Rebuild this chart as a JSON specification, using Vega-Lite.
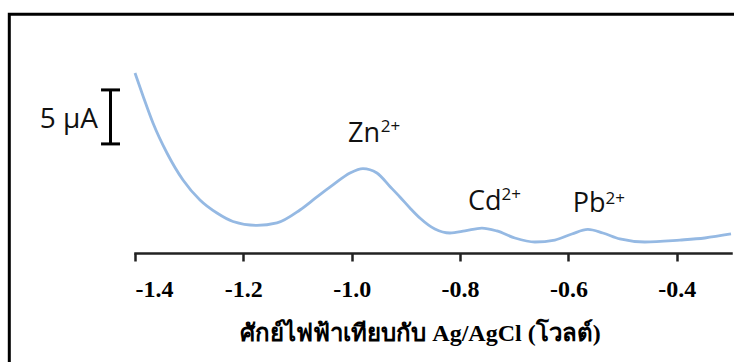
{
  "$schema": "https://vega.github.io/schema/vega-lite/v6.json",
  "width": 596,
  "height": 216,
  "autosize": {"type": "none"},
  "padding": {"left": 135, "top": 37, "right": 3, "bottom": 109},
  "background": "white",
  "config": {"view": {"stroke": null}},
  "resolve": {"axis": {"x": "independent", "y": "independent"}},
  "datasets": {
    "curve": [
      {"potential": -1.4, "current": 16.67},
      {"potential": -1.3852, "current": 14.54},
      {"potential": -1.3668, "current": 12.04},
      {"potential": -1.341, "current": 9.26},
      {"potential": -1.3114, "current": 6.76},
      {"potential": -1.2801, "current": 4.91},
      {"potential": -1.2487, "current": 3.7},
      {"potential": -1.2192, "current": 2.92},
      {"potential": -1.1749, "current": 2.55},
      {"potential": -1.138, "current": 2.78},
      {"potential": -1.0956, "current": 3.98},
      {"potential": -1.0642, "current": 5.19},
      {"potential": -1.0347, "current": 6.3},
      {"potential": -1.0033, "current": 7.41},
      {"potential": -0.9793, "current": 7.82},
      {"potential": -0.9535, "current": 7.41},
      {"potential": -0.9295, "current": 6.16},
      {"potential": -0.9111, "current": 5.19},
      {"potential": -0.8926, "current": 4.17},
      {"potential": -0.8742, "current": 3.24},
      {"potential": -0.8465, "current": 2.22},
      {"potential": -0.8188, "current": 1.85},
      {"potential": -0.7911, "current": 2.04},
      {"potential": -0.7598, "current": 2.31},
      {"potential": -0.7321, "current": 2.04},
      {"potential": -0.6989, "current": 1.39},
      {"potential": -0.662, "current": 1.02},
      {"potential": -0.6251, "current": 1.2},
      {"potential": -0.5937, "current": 1.76},
      {"potential": -0.5642, "current": 2.18},
      {"potential": -0.5365, "current": 1.85},
      {"potential": -0.5052, "current": 1.3},
      {"potential": -0.459, "current": 1.02},
      {"potential": -0.3945, "current": 1.2},
      {"potential": -0.3483, "current": 1.39},
      {"potential": -0.3, "current": 1.76}
    ],
    "frame": [{"x1": -1.632, "x2": -0.15, "y1": 22.1, "y2": -15}],
    "bar": [{"x": -1.4452, "y1": 10.1, "y2": 15.1}],
    "caps": [
      {"x1": -1.4627, "x2": -1.4277, "y": 15.1},
      {"x1": -1.4627, "x2": -1.4277, "y": 10.1}
    ],
    "labels": [
      {"x": -1.007, "y": 10.28, "text": "Zn"},
      {"x": -0.7856, "y": 3.98, "text": "Cd"},
      {"x": -0.5919, "y": 3.8, "text": "Pb"}
    ],
    "sups": [
      {"x": -0.9465, "y": 11.2, "text": "2+"},
      {"x": -0.7235, "y": 4.91, "text": "2+"},
      {"x": -0.5315, "y": 4.54, "text": "2+"}
    ],
    "unit": [{"x": -1.4683, "y": 11.57, "text": "5 μA"}]
  },
  "layer": [
    {
      "data": {"name": "frame"},
      "mark": {"type": "rect", "fill": "white", "fillOpacity": 0, "stroke": "black", "strokeWidth": 3},
      "encoding": {
        "x": {"field": "x1", "type": "quantitative", "scale": {"domain": [-1.4, -0.3]}, "axis": null},
        "x2": {"field": "x2"},
        "y": {"field": "y1", "type": "quantitative", "scale": {"domain": [0, 20]}, "axis": null},
        "y2": {"field": "y2"}
      }
    },
    {
      "data": {"name": "curve"},
      "mark": {"type": "line", "color": "#95b9e3", "strokeWidth": 2.8, "interpolate": "monotone"},
      "encoding": {
        "x": {
          "field": "potential", "type": "quantitative",
          "scale": {"domain": [-1.4, -0.3], "nice": false, "zero": false},
          "axis": {
            "values": [-1.4, -1.2, -1.0, -0.8, -0.6, -0.4],
            "labelExpr": "replace(format(datum.value, '.1f'), '\u2212', '-')",
            "labelFont": "Liberation Serif", "labelFontWeight": "bold", "labelFontSize": 24,
            "labelColor": "#000", "labelPadding": 16,
            "domainColor": "#222", "domainWidth": 2.5, "domainCap": "square",
            "tickColor": "#222", "tickWidth": 2.5, "tickSize": 8,
            "grid": false,
            "title": "ศักย์ไฟฟ้าเทียบกับ Ag/AgCl (โวลต์)",
            "titleFont": "Liberation Serif", "titleFontWeight": "bold", "titleFontSize": 24,
            "titleColor": "#000", "titleX": 285, "titleY": 87, "titleAlign": "center", "titleBaseline": "alphabetic"
          }
        },
        "y": {"field": "current", "type": "quantitative", "scale": {"domain": [0, 20], "nice": false}, "axis": null}
      }
    },
    {
      "data": {"name": "bar"},
      "mark": {"type": "rule", "color": "black", "strokeWidth": 3},
      "encoding": {
        "x": {"field": "x", "type": "quantitative", "scale": {"domain": [-1.4, -0.3]}, "axis": null},
        "y": {"field": "y1", "type": "quantitative", "scale": {"domain": [0, 20]}, "axis": null},
        "y2": {"field": "y2"}
      }
    },
    {
      "data": {"name": "caps"},
      "mark": {"type": "rule", "color": "black", "strokeWidth": 3},
      "encoding": {
        "x": {"field": "x1", "type": "quantitative", "scale": {"domain": [-1.4, -0.3]}, "axis": null},
        "x2": {"field": "x2"},
        "y": {"field": "y", "type": "quantitative", "scale": {"domain": [0, 20]}, "axis": null}
      }
    },
    {
      "data": {"name": "labels"},
      "mark": {"type": "text", "align": "left", "baseline": "alphabetic", "font": "Open Sans", "fontSize": 27, "color": "#111"},
      "encoding": {
        "x": {"field": "x", "type": "quantitative", "scale": {"domain": [-1.4, -0.3]}, "axis": null},
        "y": {"field": "y", "type": "quantitative", "scale": {"domain": [0, 20]}, "axis": null},
        "text": {"field": "text"}
      }
    },
    {
      "data": {"name": "sups"},
      "mark": {"type": "text", "align": "left", "baseline": "alphabetic", "font": "Open Sans", "fontSize": 17, "color": "#111"},
      "encoding": {
        "x": {"field": "x", "type": "quantitative", "scale": {"domain": [-1.4, -0.3]}, "axis": null},
        "y": {"field": "y", "type": "quantitative", "scale": {"domain": [0, 20]}, "axis": null},
        "text": {"field": "text"}
      }
    },
    {
      "data": {"name": "unit"},
      "mark": {"type": "text", "align": "right", "baseline": "alphabetic", "font": "Open Sans", "fontSize": 28, "color": "#111"},
      "encoding": {
        "x": {"field": "x", "type": "quantitative", "scale": {"domain": [-1.4, -0.3]}, "axis": null},
        "y": {"field": "y", "type": "quantitative", "scale": {"domain": [0, 20]}, "axis": null},
        "text": {"field": "text"}
      }
    }
  ]
}
